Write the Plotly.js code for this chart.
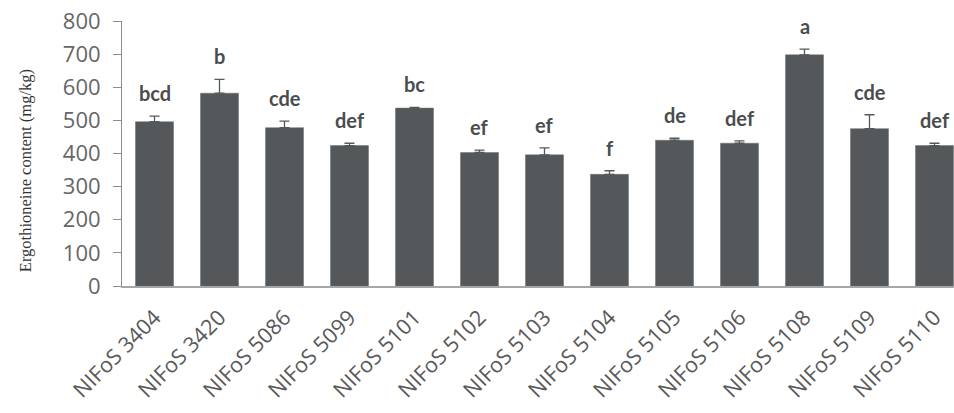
<!DOCTYPE html>
<html>
<head>
<meta charset="utf-8">
<script src="https://cdn.plot.ly/plotly-3.0.1.min.js"></script>
<style>html,body{margin:0;padding:0;background:#fff;}#chart{width:954px;height:413px;}</style>
</head>
<body>
<div id="chart"></div>
<script>
const strains = ["NIFoS 3404","NIFoS 3420","NIFoS 5086","NIFoS 5099","NIFoS 5101","NIFoS 5102","NIFoS 5103","NIFoS 5104","NIFoS 5105","NIFoS 5106","NIFoS 5108","NIFoS 5109","NIFoS 5110"];
const ergothioneine = [496, 582, 478, 424, 537, 403, 396, 337, 440, 431, 698, 475, 424];
const errors = [17, 42, 20, 7, 2, 7, 21, 11, 6, 7, 17, 42, 7];
const letters = ["bcd","b","cde","def","bc","ef","ef","f","de","def","a","cde","def"];
const yTicks = [0,100,200,300,400,500,600,700,800];
const yTitle = "Ergothioneine content (mg/kg)";

const barColor = "#54585a";
const trace = {
  type: "bar",
  x: strains,
  y: ergothioneine,
  marker: {color: barColor, line: {color: "#6b6f71", width: 0.5}},
  error_y: {type: "data", symmetric: false, array: errors, arrayminus: errors.map(() => 0),
            color: "#54585a", thickness: 1.3, width: 5},
  hoverinfo: "x+y"
};

const annotations = strains.map((s, i) => ({
  x: s, y: ergothioneine[i] + errors[i], xref: "x", yref: "y",
  text: letters[i], showarrow: false, yanchor: "bottom", yshift: 9,
  font: {family: "Lato, 'DejaVu Sans', sans-serif", size: 20, color: "#4a4d4f", weight: "bold"}
}));
annotations.push({
  xref: "paper", yref: "paper", x: -0.1166, y: 0.437,
  xanchor: "center", yanchor: "middle", textangle: -90, showarrow: false,
  text: yTitle,
  font: {family: "'Liberation Serif', 'Times New Roman', serif", size: 16.5, color: "#333333"}
});

const layout = {
  width: 954, height: 413,
  margin: {l: 122, r: 0, t: 21, b: 127},
  paper_bgcolor: "#ffffff", plot_bgcolor: "#ffffff",
  showlegend: false,
  bargap: 0.415,
  xaxis: {
    type: "category",
    range: [-0.5, 12.3],
    showline: true, linecolor: "#a6a6a6", linewidth: 1.5,
    ticks: "", tickangle: -45,
    ticklabelstandoff: 9,
    tickfont: {family: "'Open Sans', sans-serif", size: 21.5, color: "#595959"},
    showgrid: false, zeroline: false, fixedrange: true
  },
  yaxis: {
    range: [0, 800],
    tickvals: yTicks, ticktext: yTicks.map(String),
    showline: true, linecolor: "#8c8c8c", linewidth: 1,
    ticks: "outside", ticklen: 8, tickcolor: "#8c8c8c", tickwidth: 1,
    ticklabelstandoff: 8,
    tickfont: {family: "'Open Sans', sans-serif", size: 22, color: "#666666"},
    showgrid: false, zeroline: false, fixedrange: true
  },
  annotations: annotations
};

Plotly.newPlot("chart", [trace], layout, {displayModeBar: false, staticPlot: true});
</script>
</body>
</html>
